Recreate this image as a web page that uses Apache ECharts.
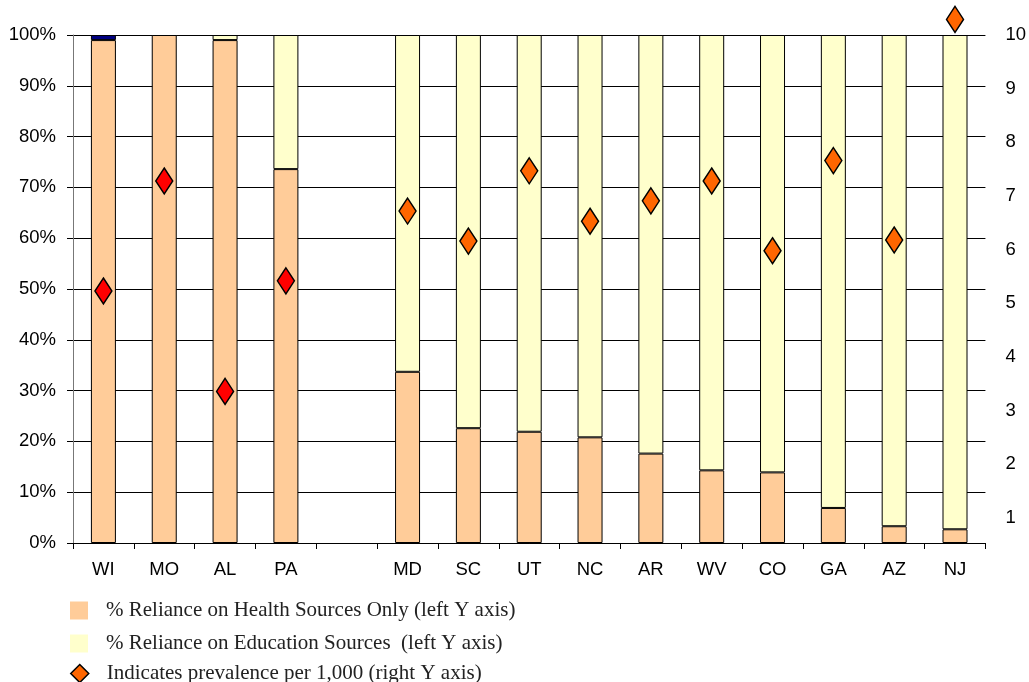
<!DOCTYPE html>
<html>
<head>
<meta charset="utf-8">
<script src="https://cdn.jsdelivr.net/npm/echarts@6/dist/echarts.min.js"></script>
<style>
  html, body { margin: 0; padding: 0; background: #fff; }
  #chart { width: 1029px; height: 682px; }
</style>
</head>
<body>
<div id="chart"></div>
<script>
const states = ['WI', 'MO', 'AL', 'PA', '', 'MD', 'SC', 'UT', 'NC', 'AR', 'WV', 'CO', 'GA', 'AZ', 'NJ'];
const healthOnly = [99, 100, 99, 73.6, null, 33.7, 22.6, 21.9, 20.8, 17.6, 14.3, 13.9, 6.9, 3.3, 2.7];
const education = [null, null, 1, 26.4, null, 66.3, 77.4, 78.1, 79.2, 82.4, 85.7, 86.1, 93.1, 96.7, 97.3];
const other = [1, null, null, null, null, null, null, null, null, null, null, null, null, null, null];
const prevalence = [5.23, 7.28, 3.36, 5.42, null, 6.72, 6.16, 7.47, 6.53, 6.91, 7.28, 5.98, 7.66, 6.18, 10.29];
const rightTicks = [1, 2, 3, 4, 5, 6, 7, 8, 9, 10];

const healthName = '% Reliance on Health Sources Only (left Y axis)';
const eduName = '% Reliance on Education Sources  (left Y axis)';
const prevName = 'Indicates prevalence per 1,000 (right Y axis)';

const chart = echarts.init(document.getElementById('chart'));

const labelFont = { fontFamily: 'Liberation Sans, Arial, sans-serif', fontSize: 18.5, color: '#000' };

// one legend per row so the rows never wrap into columns
function legendRow(item, top) {
  return {
    left: 70,
    top: top,
    padding: 0,
    itemWidth: 18,
    itemHeight: 18,
    selectedMode: false,
    textStyle: { fontFamily: 'Liberation Serif, Times New Roman, serif', fontSize: 21, color: '#222', padding: [0, 0, 0, 13] },
    data: [item]
  };
}

const option = {
  animation: false,
  grid: { left: 73, right: 42, top: 35, bottom: 139 },
  legend: [
    legendRow({ name: healthName, icon: 'rect', itemStyle: { borderWidth: 0 } }, 600),
    legendRow({ name: eduName, icon: 'rect', itemStyle: { borderWidth: 0 } }, 633),
    legendRow({ name: prevName, icon: 'diamond', itemStyle: { color: '#FF6600', borderColor: '#000', borderWidth: 1.5, opacity: 1 } }, 663)
  ],
  xAxis: {
    type: 'category',
    data: states,
    axisLine: { lineStyle: { color: '#000', width: 1 } },
    axisTick: { show: true, length: 6, lineStyle: { color: '#000' } },
    axisLabel: Object.assign({ margin: 17 }, labelFont)
  },
  yAxis: [
    {
      type: 'value',
      min: 0,
      max: 100,
      interval: 10,
      axisLine: { show: true, lineStyle: { color: '#777' } },
      axisTick: { show: true, length: 6, lineStyle: { color: '#000' } },
      axisLabel: Object.assign({ margin: 17, formatter: '{value}%' }, labelFont),
      splitLine: { lineStyle: { color: '#000', width: 1 } }
    },
    {
      type: 'value',
      position: 'right',
      min: 0.535,
      max: 10,
      axisLine: { show: false },
      axisTick: { show: false },
      splitLine: { show: false },
      axisLabel: Object.assign({ margin: 20, customValues: rightTicks, align: 'left' }, labelFont)
    }
  ],
  series: [
    {
      name: healthName,
      type: 'bar',
      stack: 'reliance',
      barWidth: 25,
      data: healthOnly,
      itemStyle: { color: '#FFCC99', borderColor: '#000', borderWidth: 1 }
    },
    {
      name: eduName,
      type: 'bar',
      stack: 'reliance',
      barWidth: 25,
      data: education,
      itemStyle: { color: '#FFFFCC', borderColor: '#000', borderWidth: 1 }
    },
    {
      name: 'Other',
      type: 'bar',
      stack: 'reliance',
      barWidth: 25,
      data: other,
      itemStyle: { color: '#000080', borderColor: '#000', borderWidth: 1 }
    },
    {
      name: prevName,
      type: 'scatter',
      yAxisIndex: 1,
      symbol: 'diamond',
      symbolSize: [17, 26],
      clip: false,
      data: prevalence,
      z: 5,
      itemStyle: {
        color: p => (p.dataIndex < 4 ? '#FF0000' : '#FF6600'),
        borderColor: '#000',
        borderWidth: 1.5,
        opacity: 1
      }
    }
  ]
};

chart.setOption(option);
</script>
</body>
</html>
